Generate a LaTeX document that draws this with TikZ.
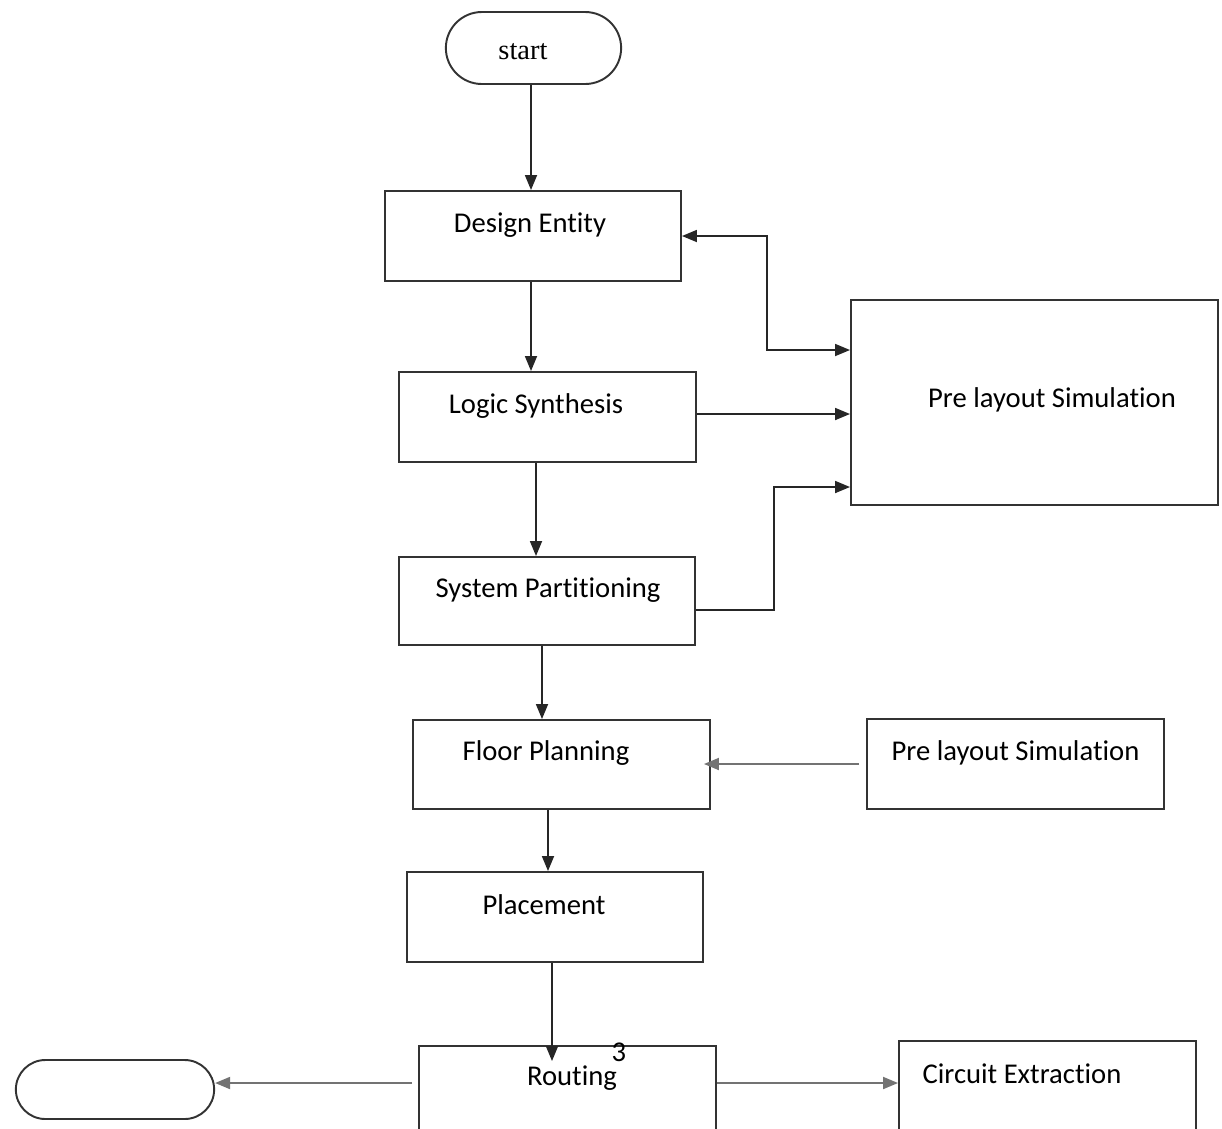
\documentclass[tikz,border=0pt]{standalone}
\usepackage{fontspec}
\newfontfamily\cbfont[Ligatures=NoCommon]{Carlito}
\newfontfamily\tnrfont{Liberation Serif}
\usetikzlibrary{arrows.meta, shapes.misc, calc}

\begin{document}
\begin{tikzpicture}[
  box/.style={draw=black!80, line width=1.1pt, minimum width=5.94cm, minimum height=1.8cm},
  term/.style={draw=black!80, line width=1.1pt, rounded rectangle},
  mtxt/.style={font=\cbfont\fontsize{16.3}{19}\selectfont, inner sep=0pt},
  txt/.style={mtxt, yshift=0.22cm},
  arr/.style={-{Triangle[length=3mm, width=2.4mm]}, line width=1pt, draw=black!85},
  garr/.style={arr, draw=black!55, line width=1.1pt}
]
\useasboundingbox (0,0) rectangle (24.44,-22.56);

% Terminals
\node[term, minimum width=3.74cm, minimum height=1.44cm,
  label={[mtxt, font=\tnrfont\fontsize{16.2}{19}\selectfont, xshift=-0.21cm, yshift=-0.08cm]center:start}] (start) at (10.67,-0.96) {};
\node[term, minimum width=4.2cm, minimum height=1.18cm] (stop) at (2.3,-21.79) {};

% Main flow (boxes stacked down the page)
\node[box, minimum width=5.92cm, label={[txt, xshift=-0.06cm]center:Design Entity}] (de) at (10.66,-4.72) {};
\node[box, label={[txt, xshift=-0.23cm]center:Logic Synthesis}] (ls) at (10.95,-8.34) {};
\node[box, minimum width=5.92cm, minimum height=1.76cm, label={[txt, xshift=0.02cm]center:System Partitioning}] (sp) at (10.94,-12.02) {};
\node[box, minimum height=1.78cm, label={[txt, xshift=-0.31cm]center:Floor Planning}] (fp) at (11.23,-15.29) {};
\node[box, minimum width=5.92cm, label={[txt, xshift=-0.22cm, yshift=0.03cm]center:Placement}] (pl) at (11.10,-18.34) {};
\node[box, label={[txt, xshift=0.09cm, yshift=0.03cm]center:Routing},
  label={[mtxt, xshift=1.03cm, yshift=0.78cm]center:3}] (rt) at (11.35,-21.82) {};

% Side boxes
\node[box, minimum width=7.34cm, minimum height=4.1cm, label={[mtxt, xshift=0.35cm, yshift=0.05cm]center:Pre layout Simulation}] (sim1) at (20.69,-8.05) {};
\node[box, label={[txt]center:Pre layout Simulation}] (sim2) at (20.31,-15.28) {};
\node[box, label={[txt, xshift=-0.51cm, yshift=0.03cm]center:Circuit Extraction}] (ce) at (20.95,-21.72) {};

% Vertical arrows
\draw[arr] ([xshift=-0.05cm]start.south) -- ([xshift=-0.05cm]start.south |- de.north);
\draw[arr] ([xshift=-0.04cm]de.south) -- ([xshift=-0.04cm]de.south |- ls.north);
\draw[arr] ([xshift=-0.23cm]ls.south) -- ([xshift=-0.23cm]ls.south |- sp.north);
\draw[arr] ([xshift=-0.1cm]sp.south) -- ([xshift=-0.1cm]sp.south |- fp.north);
\draw[arr] ([xshift=-0.27cm]fp.south) -- ([xshift=-0.27cm]fp.south |- pl.north);
\draw[arr, shorten >=-0.32cm] ([xshift=-0.06cm]pl.south) -- ([xshift=-0.06cm]pl.south |- rt.north);

% Links to the simulation box
\draw[arr, {Triangle[length=3mm, width=2.4mm]}-{Triangle[length=3mm, width=2.4mm]}] (de.east) -| ++(1.7,-2.28) -- ([yshift=1.05cm]sim1.west);
\draw[arr] ([yshift=0.06cm]ls.east) -- ([yshift=0.06cm]ls.east -| sim1.west);
\draw[arr] ([yshift=-0.18cm]sp.east) -- ++(1.56,0) |- ([yshift=-1.69cm]sim1.west);

% Grey side arrows
\draw[garr] ([xshift=-0.14cm]sim2.west) -- ([xshift=-0.14cm]sim2.west -| fp.east);
\draw[garr] ([xshift=-0.12cm, yshift=0.16cm]rt.west) -- ([yshift=0.16cm]rt.west -| stop.east);
\draw[garr] ([yshift=0.16cm]rt.east) -- ([yshift=0.16cm]rt.east -| ce.west);
\end{tikzpicture}
\end{document}
